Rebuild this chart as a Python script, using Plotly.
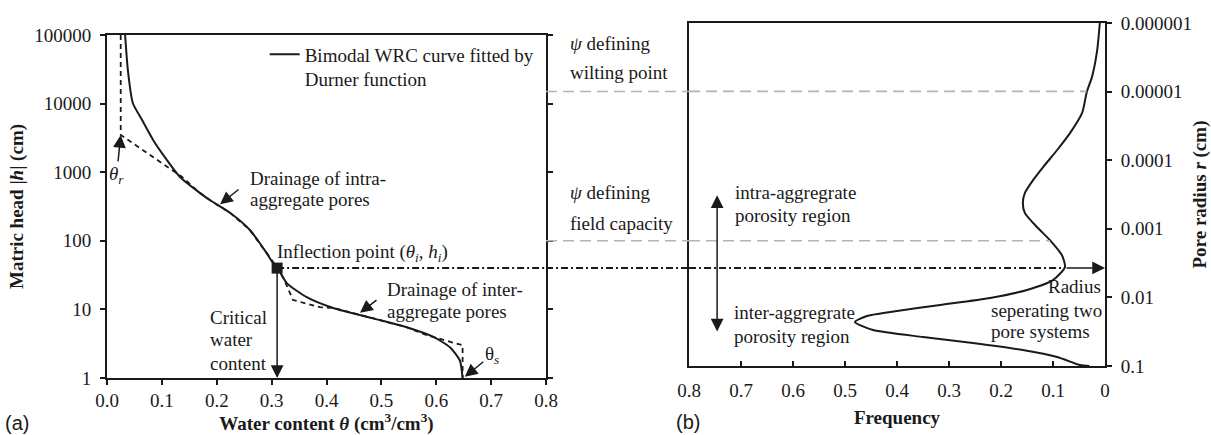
import numpy as np
import plotly.graph_objects as go

# ---- (a) water retention curve ------------------------------------------
# bimodal Durner fit: water content (cm3/cm3) vs matric head |h| (cm)
theta_fit = [0.033, 0.038, 0.047, 0.064, 0.084, 0.109, 0.133, 0.169, 0.188, 0.224,
             0.260, 0.291, 0.302, 0.311, 0.328, 0.364, 0.412, 0.485, 0.546, 0.594,
             0.625, 0.643, 0.648]
h_fit = [100000, 30900, 10200, 5750, 2950, 1510, 850, 500, 390, 257,
         145, 66, 48, 40, 24, 15.1, 10.5, 7.4, 5.5, 4.0,
         2.8, 1.8, 1.0]

# piecewise (dashed) retention curve between theta_r and theta_s
theta_piece = [0.025, 0.025, 0.137, 0.169, 0.188, 0.224, 0.260, 0.291, 0.311, 0.322,
               0.339, 0.388, 0.412, 0.485, 0.546, 0.583, 0.648, 0.648]
h_piece = [100000, 3500, 850, 500, 390, 257, 145, 66, 40, 28,
           13.7, 10.8, 10.5, 7.4, 5.5, 4.2, 3.0, 1.0]

theta_r, h_r = 0.025, 3500
theta_s = 0.648
theta_i, h_i = 0.31, 40          # inflection point
h_wilting, h_field = 15000, 100  # psi at wilting point / field capacity

# ---- (b) pore-size distribution -----------------------------------------
freq = [0.010, 0.015, 0.025, 0.035, 0.044, 0.067, 0.092, 0.119, 0.138, 0.154,
        0.158, 0.154, 0.131, 0.106, 0.083, 0.077, 0.100, 0.150, 0.221, 0.317,
        0.413, 0.458, 0.481, 0.446, 0.350, 0.254, 0.158, 0.092, 0.048, 0.030]
radius = [1.0e-6, 2.48e-6, 6.1e-6, 1.01e-5, 2.05e-5, 4.0e-5, 7.1e-5, 1.26e-4, 1.94e-4, 3.0e-4,
          4.2e-4, 5.9e-4, 9.4e-4, 1.46e-3, 2.41e-3, 3.6e-3, 5.6e-3, 7.8e-3, 1.02e-2, 1.29e-2,
          1.63e-2, 1.87e-2, 2.28e-2, 2.99e-2, 3.78e-2, 4.62e-2, 5.85e-2, 7.4e-2, 9.7e-2, 0.1]

CAPILLARY = 0.149                 # r (cm) = 0.149 / |h| (cm)
r_i = CAPILLARY / h_i
r_wilting = CAPILLARY / h_wilting
r_field = CAPILLARY / h_field
freq_i, freq_wilting, freq_field = 0.077, 0.035, 0.106

# ---- tick labels ----------------------------------------------------------
theta_ticks = [0.0, 0.1, 0.2, 0.3, 0.4, 0.5, 0.6, 0.7, 0.8]
h_ticks = [1, 10, 100, 1000, 10000, 100000]
h_tick_text = ["1", "10", "100", "1000", "10000", "100000"]
freq_ticks = [0.8, 0.7, 0.6, 0.5, 0.4, 0.3, 0.2, 0.1, 0.0]
freq_tick_text = ["0.8", "0.7", "0.6", "0.5", "0.4", "0.3", "0.2", "0.1", "0"]
r_ticks = [1e-6, 1e-5, 1e-4, 1e-3, 1e-2, 1e-1]
r_tick_text = ["0.000001", "0.00001", "0.0001", "0.001", "0.01", "0.1"]

SERIF = "Liberation Serif"
SANS = "Liberation Sans"
INK = "#1a1a1a"
GRAY = "#b4b4b4"
FS = 19
lg = np.log10

# panel placement inside the plot area
XD_A, XD_B = [0.0, 0.4399], [0.5832, 1.0]
YD_A, YD_B = [0.0, 0.9662], [0.0338, 1.0]

fig = go.Figure()
fig.add_trace(go.Scatter(
    x=theta_fit, y=h_fit, mode="lines", xaxis="x", yaxis="y",
    line=dict(color=INK, width=2, shape="spline", smoothing=0.6),
    name="Bimodal WRC curve fitted by<br>Durner function"))
fig.add_trace(go.Scatter(
    x=theta_piece, y=h_piece, mode="lines", xaxis="x", yaxis="y",
    line=dict(color=INK, width=1.8, dash="5px,4px"), showlegend=False))
fig.add_trace(go.Scatter(
    x=[theta_i], y=[h_i], mode="markers", xaxis="x", yaxis="y",
    marker=dict(symbol="square", size=11, color=INK), showlegend=False))
fig.add_trace(go.Scatter(
    x=freq, y=radius, mode="lines", xaxis="x2", yaxis="y2",
    line=dict(color=INK, width=2, shape="spline", smoothing=0.6), showlegend=False))

DASHDOT = "7px,3px,2px,3px"
GRAYDASH = "11px,6px"
shapes = [
    # inflection head carried across to the pore-size panel
    dict(type="line", xref="x", yref="y", x0=theta_i, x1=0.8, y0=h_i, y1=h_i,
         line=dict(color=INK, width=2, dash=DASHDOT)),
    dict(type="line", xref="paper", yref="y", x0=XD_A[1], x1=XD_B[0], y0=h_i, y1=h_i,
         line=dict(color=INK, width=2, dash=DASHDOT)),
    dict(type="line", xref="x2", yref="y2", x0=0.8, x1=freq_i, y0=r_i, y1=r_i,
         line=dict(color=INK, width=2, dash=DASHDOT)),
    # wilting point and field capacity
    dict(type="line", xref="paper", yref="y", x0=XD_A[1], x1=XD_B[0], y0=h_wilting, y1=h_wilting,
         line=dict(color=GRAY, width=1.6, dash=GRAYDASH)),
    dict(type="line", xref="x2", yref="y2", x0=0.8, x1=freq_wilting, y0=r_wilting, y1=r_wilting,
         line=dict(color=GRAY, width=1.6, dash=GRAYDASH)),
    dict(type="line", xref="paper", yref="y", x0=XD_A[1], x1=XD_B[0], y0=h_field, y1=h_field,
         line=dict(color=GRAY, width=1.6, dash=GRAYDASH)),
    dict(type="line", xref="x2", yref="y2", x0=0.8, x1=freq_field, y0=r_field, y1=r_field,
         line=dict(color=GRAY, width=1.6, dash=GRAYDASH)),
]

tf = dict(family=SERIF, size=FS, color=INK)
ARROW = dict(arrowhead=2, arrowsize=1.7, arrowwidth=1.5, arrowcolor=INK)


def text_a(x, y, s, anchor="left"):
    return dict(xref="x", yref="y", x=x, y=lg(y), text=s, showarrow=False,
                xanchor=anchor, yanchor="middle", font=tf)


def text_b(x, y, s, anchor="left"):
    return dict(xref="x2", yref="y2", x=x, y=lg(y), text=s, showarrow=False,
                xanchor=anchor, yanchor="middle", font=tf)


annotations = [
    # theta_r
    dict(xref="x", yref="y", x=theta_r, y=lg(h_r), text="<i>θ<sub>r</sub></i>",
         showarrow=True, ax=-4, ay=40, font=tf, **ARROW),
    # drainage of intra-aggregate pores
    text_a(0.257, 820, "Drainage of intra-"),
    text_a(0.257, 394, "aggregate pores"),
    dict(xref="x", yref="y", x=0.206, y=lg(340), text="", showarrow=True,
         ax=20, ay=-16, **ARROW),
    # inflection point
    text_a(0.306, 66, "Inflection point (<i>θ<sub>i</sub></i>, <i>h<sub>i</sub></i>)"),
    # drainage of inter-aggregate pores
    text_a(0.506, 19.8, "Drainage of inter-"),
    text_a(0.506, 9.2, "aggregate pores"),
    dict(xref="x", yref="y", x=0.461, y=lg(8.9), text="", showarrow=True,
         ax=18, ay=-14, **ARROW),
    # theta_s
    dict(xref="x", yref="y", x=theta_s + 0.004, y=lg(1.04), text="θ<sub><i>s</i></sub>",
         showarrow=True, ax=27, ay=-22, font=tf, **ARROW),
    # critical water content
    text_a(0.184, 7.5, "Critical"),
    text_a(0.184, 3.58, "water"),
    text_a(0.184, 1.65, "content"),
    dict(xref="x", yref="y", x=theta_i, y=lg(1), axref="x", ayref="y",
         ax=theta_i, ay=lg(h_i), text="", showarrow=True, **ARROW),
    # psi labels between panels
    dict(xref="paper", yref="y", x=XD_A[1] + 0.022, y=lg(76000), text="<i>ψ</i> defining",
         showarrow=False, xanchor="left", yanchor="middle", font=tf),
    dict(xref="paper", yref="y", x=XD_A[1] + 0.022, y=lg(28000), text="wilting point",
         showarrow=False, xanchor="left", yanchor="middle", font=tf),
    dict(xref="paper", yref="y", x=XD_A[1] + 0.022, y=lg(510), text="<i>ψ</i> defining",
         showarrow=False, xanchor="left", yanchor="middle", font=tf),
    dict(xref="paper", yref="y", x=XD_A[1] + 0.022, y=lg(180), text="field capacity",
         showarrow=False, xanchor="left", yanchor="middle", font=tf),
    # porosity regions
    dict(xref="x2", yref="y2", x=0.746, y=lg(10 ** -3.49), axref="x2", ayref="y2",
         ax=0.746, ay=lg(10 ** -1.48), text="", showarrow=True, arrowside="end+start",
         **ARROW),
    text_b(0.715, 10 ** -3.536, "intra-aggregrate"),
    text_b(0.715, 10 ** -3.201, "porosity region"),
    text_b(0.717, 10 ** -1.773, "inter-aggregrate"),
    text_b(0.717, 10 ** -1.437, "porosity region"),
    # separating radius
    dict(xref="x2", yref="y2", x=0.0, y=lg(r_i), axref="x2", ayref="y2",
         ax=freq_i, ay=lg(r_i), text="", showarrow=True, **ARROW),
    text_b(0.004, 10 ** -2.152, "Radius", anchor="right"),
    text_b(0.223, 10 ** -1.816, "seperating two"),
    text_b(0.223, 10 ** -1.496, "pore systems"),
    # panel letters
    dict(xref="paper", yref="paper", x=-0.09, y=-0.128, text="(a)", showarrow=False,
         xanchor="center", yanchor="middle", font=dict(family=SANS, size=20, color=INK)),
    dict(xref="paper", yref="paper", x=0.5822, y=-0.125, text="(b)", showarrow=False,
         xanchor="center", yanchor="middle", font=dict(family=SANS, size=20, color=INK)),
]

axis_common = dict(showgrid=False, zeroline=False, showline=True, linecolor=INK, linewidth=2,
                   tickcolor=INK, ticklen=5, tickwidth=1.5, tickfont=tf, automargin=False)
title_font = dict(family=SERIF, size=FS, color=INK)

fig.update_layout(
    width=1211, height=435,
    margin=dict(l=107, r=106, t=23, b=57),
    paper_bgcolor="white", plot_bgcolor="rgba(0,0,0,0)",
    font=dict(family=SERIF, size=FS, color=INK),
    showlegend=True,
    legend=dict(x=0.158, y=0.965, xanchor="left", yanchor="top", valign="top",
                bgcolor="rgba(0,0,0,0)", borderwidth=0, font=tf, tracegroupgap=0),
    xaxis=dict(domain=XD_A, anchor="y", range=[0, 0.8], tickvals=theta_ticks, tickformat=".1f",
               ticks="outside", mirror=True, ticklabelstandoff=-1,
               title=dict(text="<b>Water content <i>θ</i> (cm<sup>3</sup>/cm<sup>3</sup>)</b>",
                          font=title_font, standoff=14),
               **axis_common),
    yaxis=dict(domain=YD_A, anchor="x", type="log", range=[0, 5], tickvals=h_ticks,
               ticktext=h_tick_text, ticks="outside", mirror="ticks", ticklabelstandoff=5,
               title=dict(text="<b>Matric head |<i>h</i>| (cm)</b>", font=title_font, standoff=6),
               **axis_common),
    xaxis2=dict(domain=XD_B, anchor="y2", range=[0.8, 0], tickvals=freq_ticks,
                ticktext=freq_tick_text, ticks="inside", mirror=True, ticklabelstandoff=6,
                title=dict(text="<b>Frequency</b>", font=title_font, standoff=11),
                **axis_common),
    yaxis2=dict(domain=YD_B, anchor="x2", type="log", range=[-1, -6], side="right",
                tickvals=r_ticks, ticktext=r_tick_text, ticks="outside", mirror=True,
                ticklabelstandoff=5,
                title=dict(text="<b>Pore radius <i>r</i> (cm)</b>", font=title_font, standoff=4),
                **axis_common),
    shapes=shapes,
    annotations=annotations,
)

fig.write_html("out.html")
